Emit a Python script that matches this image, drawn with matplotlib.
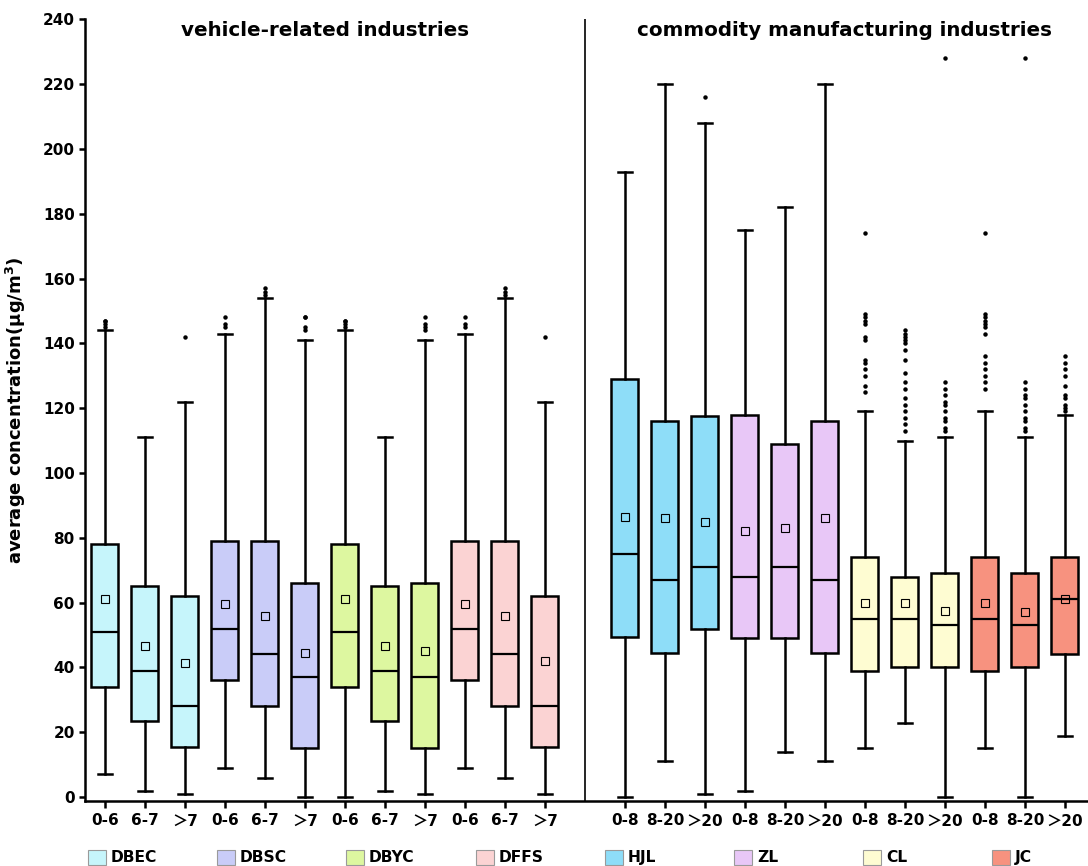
import matplotlib.pyplot as plt
import matplotlib.patches as mpatches

plt.rcParams['font.family'] = ['DejaVu Sans', 'Noto Sans CJK SC']
plt.rcParams['font.weight'] = 'bold'

# vehicle-related industries (left half)
left_labels = ['0-6', '6-7', '＞7'] * 4
left_groups = ['DBEC', 'DBSC', 'DBYC', 'DFFS']
left_colors = ['#C6F5FB', '#C9CCF8', '#DDF7A0', '#FBD3D3']
left_whislo = [7, 2, 1, 9, 6, 0, 0, 2, 1, 9, 6, 1]
left_q1 = [34, 23.5, 15.6, 36, 28, 15, 34, 23.5, 15, 36, 28, 15.6]
left_med = [51, 39, 28, 52, 44, 37, 51, 39, 37, 52, 44, 28]
left_q3 = [78, 65, 62, 79, 79, 66, 78, 65, 66, 79, 79, 62]
left_whishi = [144, 111, 122, 143, 154, 141, 144, 111, 141, 143, 154, 122]
left_mean = [61, 46.5, 41.5, 59.5, 56, 44.5, 61, 46.5, 45, 59.5, 56, 42]
left_fliers = [
    [145, 146, 147, 147], [], [142], [145, 146, 148], [155, 156, 157],
    [144, 145, 148, 148], [145, 146, 147, 147], [], [144, 145, 146, 148],
    [145, 146, 148], [155, 156, 157], [142],
]

# commodity manufacturing industries (right half)
right_labels = ['0-8', '8-20', '＞20'] * 4
right_groups = ['HJL', 'ZL', 'CL', 'JC']
right_colors = ['#8EDDF8', '#E8C7F7', '#FEFCD2', '#F7927F']
right_whislo = [0, 11, 1, 2, 14, 11, 15, 23, 0, 15, 0, 19]
right_q1 = [49.5, 44.6, 52, 49, 49, 44.6, 39, 40, 40, 39, 40, 44]
right_med = [75, 67, 71, 68, 71, 67, 55, 55, 53, 55, 53, 61]
right_q3 = [129, 116, 117.5, 118, 109, 116, 74, 68, 69, 74, 69, 74]
right_whishi = [193, 220, 208, 175, 182, 220, 119, 110, 111, 119, 111, 118]
right_mean = [86.5, 86, 85, 82, 83, 86, 60, 60, 57.5, 60, 57, 61]
right_fliers = [
    [], [], [216], [], [], [],
    [174, 149, 148, 147, 146, 142, 141, 135, 134, 132, 130, 127, 125],
    [144, 143, 142, 141, 140, 138, 135, 131, 128, 126, 123, 121, 119, 117, 115, 113],
    [228, 128, 126, 124, 122, 121, 119, 117, 116, 114, 113],
    [174, 149, 148, 147, 146, 145, 143, 136, 134, 132, 130, 128, 126],
    [228, 128, 126, 124, 123, 121, 119, 117, 116, 114, 113],
    [136, 134, 132, 130, 127, 124, 123, 121, 120, 119],
]

yticks = list(range(0, 241, 20))

stats = []
for lo, q1, med, q3, hi, mean, fl in zip(left_whislo + right_whislo, left_q1 + right_q1,
                                         left_med + right_med, left_q3 + right_q3,
                                         left_whishi + right_whishi, left_mean + right_mean,
                                         left_fliers + right_fliers):
    stats.append(dict(whislo=lo, q1=q1, med=med, q3=q3, whishi=hi, mean=mean, fliers=fl))

# 12 boxes each side, one empty slot in between for the divider
positions = list(range(1, 13)) + list(range(14, 26))
box_colors = [c for c in left_colors + right_colors for _ in range(3)]

fig = plt.figure(figsize=(10.88, 8.66), dpi=100)
ax = fig.add_axes([0.0777, 0.0751, 0.9223, 0.9026])

res = ax.bxp(stats, positions=positions, widths=0.675, capwidths=0.35,
             patch_artist=True, showmeans=True, manage_ticks=False,
             boxprops=dict(edgecolor='black', linewidth=1.8),
             whiskerprops=dict(color='black', linewidth=1.8),
             capprops=dict(color='black', linewidth=1.8),
             medianprops=dict(color='black', linewidth=1.6),
             meanprops=dict(marker='s', markerfacecolor='none',
                            markeredgecolor='black', markersize=6,
                            markeredgewidth=0.8),
             flierprops=dict(marker='o', markerfacecolor='black',
                             markeredgecolor='black', markersize=2.2))
for box, col in zip(res['boxes'], box_colors):
    box.set_facecolor(col)

ax.axvline(13, color='black', linewidth=1.2)

ax.set_xlim(0.495, 25.575)
ax.set_ylim(-1.2, 240)
ax.set_xticks(positions)
ax.set_xticklabels(left_labels + right_labels, fontsize=11, fontweight='bold')
ax.set_yticks(yticks)
ax.set_yticklabels([str(v) for v in yticks], fontsize=11, fontweight='bold')
ax.tick_params(axis='x', length=5, width=1.8, pad=4)
ax.tick_params(axis='y', length=4, width=1.8, pad=3)
ax.spines['top'].set_visible(False)
ax.spines['right'].set_visible(False)
ax.spines['left'].set_linewidth(1.8)
ax.spines['bottom'].set_linewidth(1.8)

ax.set_ylabel('average concentration(μg/m$^\\mathbf{3}$)', fontsize=13, fontweight='bold')
ax.yaxis.set_label_coords(-0.0563, 0.5)

ax.text(6.5, 236.5, 'vehicle-related industries', ha='center', va='center',
        fontsize=14.3, fontweight='bold')
ax.text(19.5, 236.5, 'commodity manufacturing industries', ha='center', va='center',
        fontsize=14.3, fontweight='bold')

# legend row under the axes
legend_x = [97, 226, 355, 485, 614, 743, 872, 1001]
for xc, name, col in zip(legend_x, left_groups + right_groups, left_colors + right_colors):
    fig.patches.append(mpatches.Rectangle(((xc - 9) / 1088, 1 - 865 / 866), 18 / 1088, 15 / 866,
                                          transform=fig.transFigure, facecolor=col,
                                          edgecolor='#9a9a9a', linewidth=0.8))
    fig.text((xc + 14) / 1088, 1 - 857.5 / 866, name, ha='left', va='center',
             fontsize=11.2, fontweight='bold')

fig.savefig('out.png', dpi=100)
